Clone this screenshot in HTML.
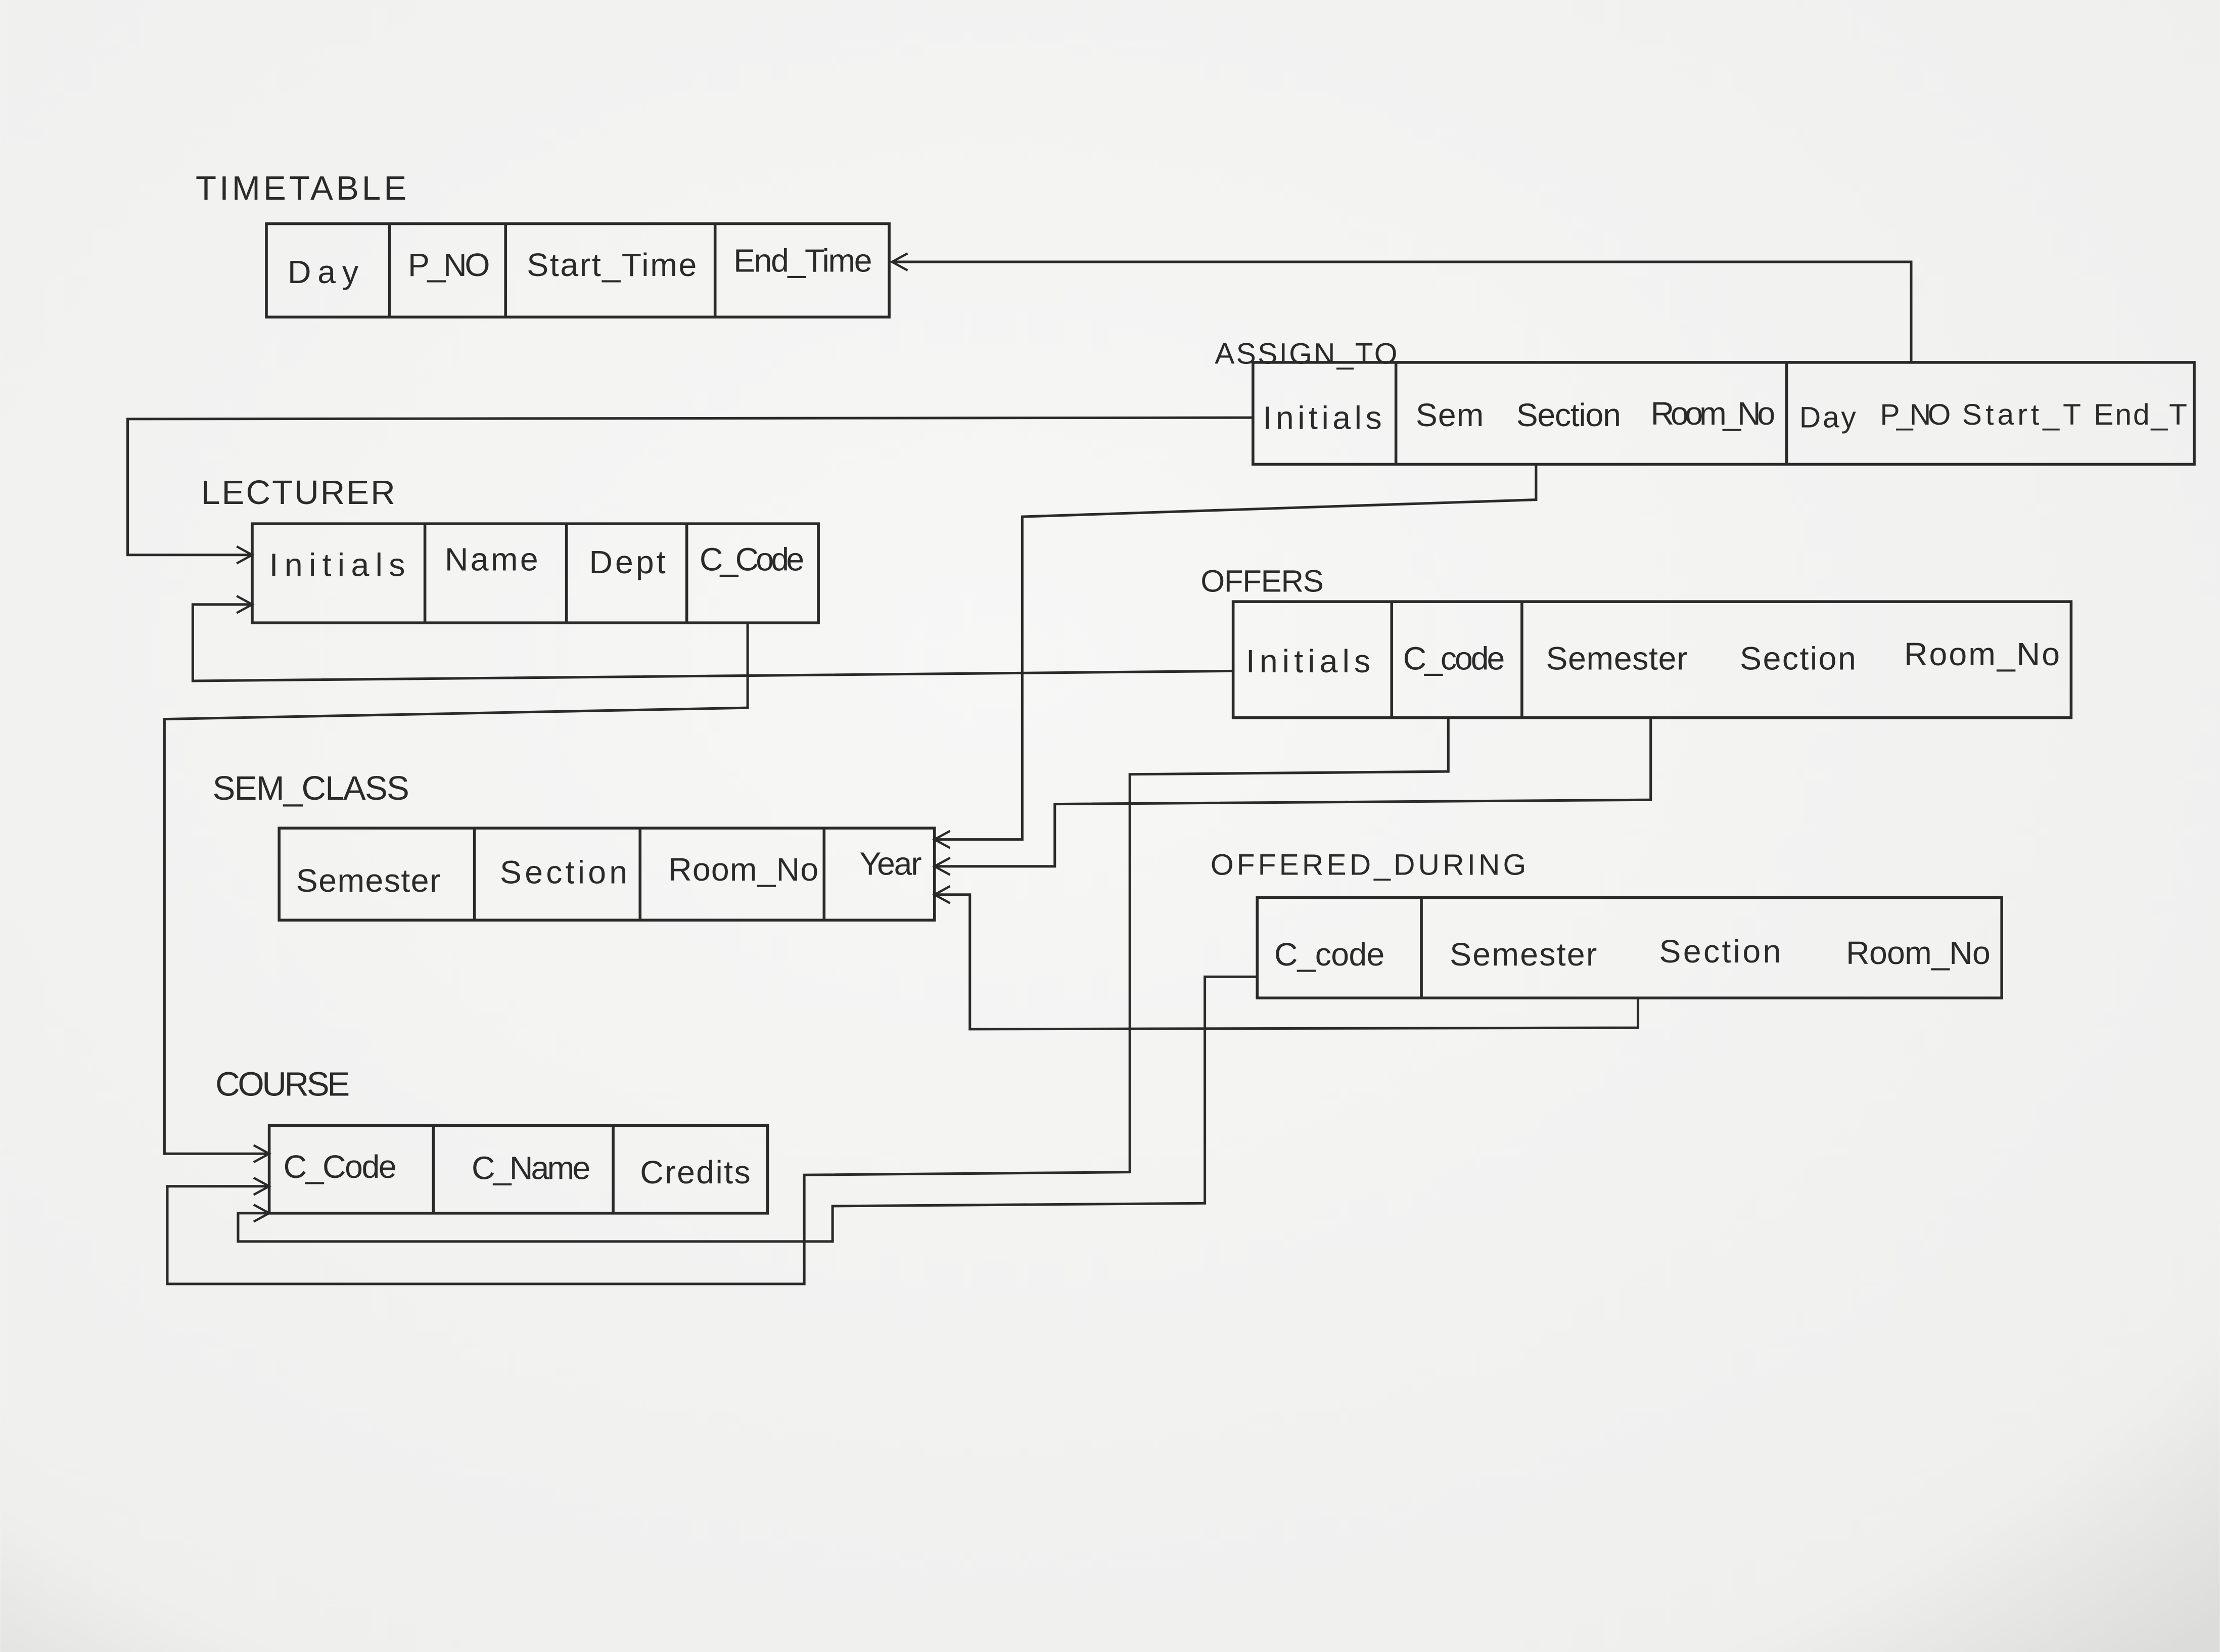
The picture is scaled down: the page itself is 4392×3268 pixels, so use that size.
<!DOCTYPE html>
<html><head><meta charset="utf-8"><style>
html,body{margin:0;padding:0;background:#f3f3f2;}
svg{display:block;}
text{font-family:"Liberation Sans",sans-serif;fill:#2a2a2a;}
.t{font-size:23px;}
.l{font-size:24px;letter-spacing:1px;}
</style></head><body>
<svg width="4392" height="3268" viewBox="0 0 1568 1167" xmlns="http://www.w3.org/2000/svg">
<defs>
<radialGradient id="g" cx="0.45" cy="0.4" r="0.8">
<stop offset="0" stop-color="#f7f7f6"/><stop offset="0.85" stop-color="#efefee"/><stop offset="1" stop-color="#dcdcdb"/>
</radialGradient>
<marker id="a" markerWidth="14" markerHeight="14" refX="12" refY="7" orient="auto" markerUnits="userSpaceOnUse">
<path d="M1,1 L12,7 L1,13" fill="none" stroke="#2a2a2a" stroke-width="1.6"/>
</marker>
</defs>
<rect width="1568" height="1167" fill="url(#g)"/>
<g fill="none" stroke="#2a2a2a" stroke-width="2">
<rect x="188" y="158" width="440" height="66"/>
<line x1="275" y1="158" x2="275" y2="224"/><line x1="357" y1="158" x2="357" y2="224"/><line x1="505" y1="158" x2="505" y2="224"/>
<rect x="885" y="256" width="665" height="72"/>
<line x1="986" y1="256" x2="986" y2="328"/><line x1="1262" y1="256" x2="1262" y2="328"/>
<rect x="178" y="370" width="400" height="70"/>
<line x1="300" y1="370" x2="300" y2="440"/><line x1="400" y1="370" x2="400" y2="440"/><line x1="485" y1="370" x2="485" y2="440"/>
<rect x="871" y="425" width="592" height="82"/>
<line x1="983" y1="425" x2="983" y2="507"/><line x1="1075" y1="425" x2="1075" y2="507"/>
<rect x="197" y="585" width="463" height="65"/>
<line x1="335" y1="585" x2="335" y2="650"/><line x1="452" y1="585" x2="452" y2="650"/><line x1="582" y1="585" x2="582" y2="650"/>
<rect x="888" y="634" width="526" height="71"/>
<line x1="1004" y1="634" x2="1004" y2="705"/>
<rect x="190" y="795" width="352" height="62"/>
<line x1="306" y1="795" x2="306" y2="857"/><line x1="433" y1="795" x2="433" y2="857"/>
</g>
<g fill="none" stroke="#2a2a2a" stroke-width="1.8" marker-end="url(#a)">
<polyline points="1350,256 1350,185 630,185"/>
<polyline points="885,295 90,296 90,392 178,392"/>
<polyline points="1085,328 1085,353 722,365 722,593 660,593"/>
<polyline points="871,474 136,481 136,427 178,427"/>
<polyline points="528,440 528,500 116,508 116,815 190,815"/>
<polyline points="1166,507 1166,565 745,568 745,612 660,612"/>
<polyline points="1157,705 1157,726 685,727 685,632 660,632"/>
<polyline points="1023,507 1023,545 798,547 798,828 568,830 568,907 118,907 118,838 190,838"/>
<polyline points="888,690 851,690 851,850 588,852 588,877 168,877 168,857 190,857"/>
</g>
<text class="l" x="138" y="141" textLength="150">TIMETABLE</text>
<text class="t" x="203" y="200" textLength="50">Day</text><text class="t" x="288" y="195" textLength="58">P_NO</text><text class="t" x="372" y="195" textLength="120">Start_Time</text><text class="t" x="518" y="192" textLength="98">End_Time</text>
<text class="l" x="858" y="257" style="font-size:21px" textLength="130">ASSIGN_TO</text>
<text class="t" x="892" y="303" textLength="84">Initials</text><text class="t" x="1000" y="301" textLength="48">Sem</text><text class="t" x="1071" y="301" textLength="74">Section</text><text class="t" x="1166" y="300" textLength="88">Room_No</text>
<text class="t" x="1271" y="302" style="font-size:21px" textLength="40">Day</text><text class="t" x="1328" y="300" style="font-size:21px" textLength="50">P_NO</text><text class="t" x="1386" y="300" style="font-size:21px" textLength="84">Start_T</text><text class="t" x="1479" y="300" style="font-size:21px" textLength="66">End_T</text>
<text class="l" x="142" y="356" textLength="138">LECTURER</text>
<text class="t" x="190" y="407" textLength="96">Initials</text><text class="t" x="314" y="403" textLength="66">Name</text><text class="t" x="416" y="405" textLength="54">Dept</text><text class="t" x="494" y="403" textLength="74">C_Code</text>
<text class="l" x="848" y="418" style="font-size:22px" textLength="88">OFFERS</text>
<text class="t" x="880" y="475" textLength="88">Initials</text><text class="t" x="991" y="473" textLength="72">C_code</text><text class="t" x="1092" y="473" textLength="100">Semester</text><text class="t" x="1229" y="473" textLength="82">Section</text><text class="t" x="1345" y="470" textLength="110">Room_No</text>
<text class="l" x="150" y="565" textLength="140">SEM_CLASS</text>
<text class="t" x="209" y="630" textLength="102">Semester</text><text class="t" x="353" y="624" textLength="90">Section</text><text class="t" x="472" y="622" textLength="106">Room_No</text><text class="t" x="607" y="618" textLength="44">Year</text>
<text class="l" x="855" y="618" style="font-size:21px" textLength="224">OFFERED_DURING</text>
<text class="t" x="900" y="682" textLength="78">C_code</text><text class="t" x="1024" y="682" textLength="104">Semester</text><text class="t" x="1172" y="680" textLength="86">Section</text><text class="t" x="1304" y="681" textLength="102">Room_No</text>
<text class="l" x="152" y="774" textLength="96">COURSE</text>
<text class="t" x="200" y="832" textLength="80">C_Code</text><text class="t" x="333" y="833" textLength="84">C_Name</text><text class="t" x="452" y="836" textLength="78">Credits</text>
</svg>
</body></html>
